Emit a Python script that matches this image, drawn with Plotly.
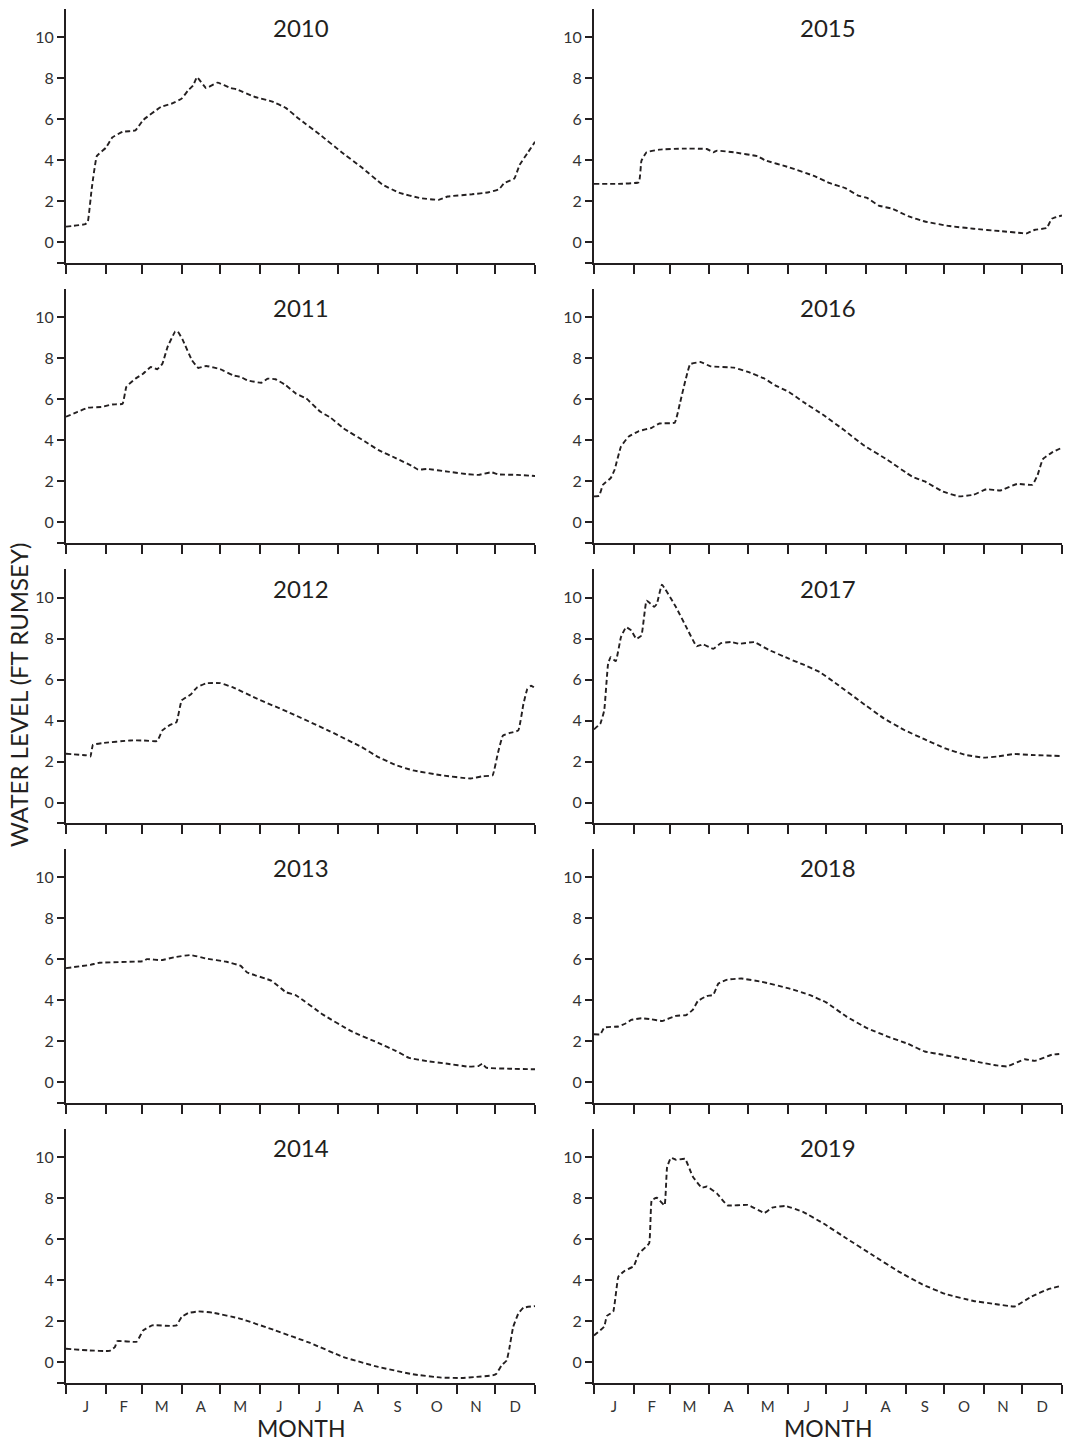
import plotly.graph_objects as go

# ---------------- data (day of year, water level ft Rumsey) ----------------
years = ["2010", "2011", "2012", "2013", "2014", "2015", "2016", "2017", "2018", "2019"]

d2010 = [0, 15, 17, 20, 24, 31, 36, 44, 54, 60, 74, 82, 90, 95, 99, 102, 109, 118, 128, 133, 147, 160, 171, 181, 198, 214, 230, 246, 259, 276, 290, 297, 316, 329, 337, 341, 349, 353, 359, 365]
v2010 = [0.75, 0.87, 1.0, 2.6, 4.2, 4.6, 5.1, 5.38, 5.45, 5.95, 6.6, 6.75, 7.0, 7.4, 7.65, 8.05, 7.52, 7.78, 7.52, 7.45, 7.08, 6.87, 6.55, 6.03, 5.22, 4.41, 3.65, 2.82, 2.41, 2.14, 2.06, 2.22, 2.33, 2.43, 2.58, 2.87, 3.11, 3.76, 4.33, 4.89]

d2011 = [0, 9, 17, 28, 36, 44, 47, 54, 60, 66, 71, 75, 79, 85, 87, 91, 98, 103, 109, 120, 130, 136, 141, 152, 157, 163, 171, 179, 187, 198, 206, 216, 233, 243, 257, 270, 274, 281, 297, 313, 321, 331, 336, 351, 365]
v2011 = [5.14, 5.38, 5.58, 5.62, 5.74, 5.77, 6.6, 7.0, 7.24, 7.57, 7.46, 7.73, 8.54, 9.3, 9.3, 8.87, 7.9, 7.52, 7.62, 7.46, 7.16, 7.08, 6.92, 6.8, 7.0, 6.97, 6.68, 6.27, 6.03, 5.38, 5.09, 4.57, 3.92, 3.52, 3.11, 2.71, 2.56, 2.59, 2.46, 2.33, 2.3, 2.43, 2.33, 2.3, 2.25]

d2012 = [0, 16, 19, 21, 28, 50, 60, 71, 75, 81, 86, 90, 97, 102, 109, 120, 130, 149, 176, 203, 230, 243, 257, 270, 292, 315, 324, 332, 336, 340, 345, 352, 356, 359, 362, 365]
v2012 = [2.38, 2.3, 2.25, 2.82, 2.9, 3.03, 3.03, 3.0, 3.52, 3.79, 3.92, 4.98, 5.27, 5.62, 5.82, 5.83, 5.62, 5.06, 4.33, 3.55, 2.71, 2.22, 1.82, 1.57, 1.33, 1.17, 1.28, 1.33, 2.38, 3.27, 3.39, 3.52, 4.81, 5.54, 5.7, 5.59]

d2013 = [0, 19, 26, 60, 63, 74, 85, 97, 109, 125, 136, 141, 160, 171, 179, 200, 222, 243, 257, 267, 281, 297, 313, 321, 324, 327, 345, 365]
v2013 = [5.56, 5.72, 5.82, 5.9, 6.0, 5.95, 6.1, 6.2, 6.03, 5.87, 5.67, 5.35, 4.94, 4.39, 4.23, 3.29, 2.48, 1.91, 1.51, 1.18, 1.02, 0.89, 0.75, 0.78, 0.89, 0.7, 0.65, 0.62]

d2014 = [0, 17, 34, 38, 40, 55, 60, 67, 82, 86, 90, 95, 103, 114, 136, 163, 190, 216, 243, 270, 292, 308, 319, 332, 335, 339, 343, 345, 348, 352, 356, 365]
v2014 = [0.65, 0.57, 0.54, 0.73, 1.02, 0.99, 1.54, 1.79, 1.76, 1.79, 2.2, 2.39, 2.47, 2.41, 2.11, 1.54, 0.93, 0.24, -0.24, -0.6, -0.76, -0.78, -0.73, -0.65, -0.57, -0.16, 0.08, 0.65, 1.71, 2.36, 2.65, 2.73]

d2015 = [0, 19, 35, 37, 41, 51, 69, 88, 93, 96, 109, 128, 133, 152, 171, 184, 196, 206, 213, 222, 233, 245, 258, 277, 296, 317, 333, 337, 344, 353, 357, 365]
v2015 = [2.84, 2.84, 2.92, 3.97, 4.38, 4.51, 4.56, 4.54, 4.38, 4.46, 4.38, 4.18, 4.0, 3.65, 3.24, 2.87, 2.63, 2.27, 2.15, 1.78, 1.62, 1.26, 1.0, 0.78, 0.65, 0.53, 0.44, 0.41, 0.6, 0.68, 1.13, 1.3]

d2016 = [0, 4, 7, 13, 16, 21, 27, 35, 45, 51, 63, 67, 75, 83, 91, 109, 120, 133, 141, 152, 163, 179, 195, 210, 229, 248, 258, 272, 285, 296, 306, 317, 330, 342, 346, 350, 357, 365]
v2016 = [1.25, 1.28, 1.82, 2.14, 2.54, 3.68, 4.17, 4.44, 4.6, 4.81, 4.85, 5.79, 7.7, 7.81, 7.6, 7.54, 7.33, 7.0, 6.68, 6.35, 5.87, 5.22, 4.49, 3.76, 3.03, 2.22, 1.98, 1.49, 1.25, 1.33, 1.6, 1.54, 1.86, 1.82, 2.3, 3.06, 3.39, 3.63]

d2017 = [0, 5, 8, 11, 13, 17, 21, 25, 29, 33, 37, 41, 47, 49, 53, 64, 72, 80, 85, 93, 99, 107, 113, 125, 136, 152, 163, 176, 189, 208, 226, 242, 258, 274, 290, 304, 314, 328, 341, 365]
v2017 = [3.57, 3.86, 4.51, 6.78, 7.1, 6.9, 8.07, 8.56, 8.4, 7.99, 8.15, 9.85, 9.56, 9.69, 10.63, 9.53, 8.56, 7.63, 7.72, 7.5, 7.78, 7.84, 7.75, 7.83, 7.46, 7.02, 6.74, 6.37, 5.8, 4.92, 4.11, 3.54, 3.08, 2.64, 2.32, 2.19, 2.24, 2.37, 2.32, 2.27]

d2018 = [0, 5, 8, 19, 25, 29, 37, 45, 53, 64, 72, 77, 81, 88, 93, 97, 104, 115, 131, 152, 168, 181, 197, 213, 229, 245, 258, 272, 285, 301, 314, 322, 330, 336, 344, 357, 365]
v2018 = [2.33, 2.33, 2.66, 2.71, 2.87, 3.03, 3.11, 3.06, 2.98, 3.23, 3.27, 3.52, 3.95, 4.2, 4.25, 4.81, 5.0, 5.05, 4.89, 4.57, 4.25, 3.89, 3.19, 2.63, 2.22, 1.86, 1.49, 1.33, 1.17, 0.96, 0.81, 0.76, 0.96, 1.11, 1.03, 1.33, 1.38]

d2019 = [0, 8, 10, 15, 19, 24, 31, 35, 43, 45, 49, 55, 57, 60, 64, 71, 77, 84, 88, 96, 104, 120, 133, 139, 149, 163, 179, 197, 216, 237, 256, 274, 296, 312, 328, 341, 354, 365]
v2019 = [1.3, 1.73, 2.25, 2.46, 4.17, 4.46, 4.68, 5.3, 5.79, 7.9, 8.02, 7.65, 9.51, 9.97, 9.87, 9.92, 9.06, 8.51, 8.57, 8.22, 7.65, 7.67, 7.28, 7.54, 7.62, 7.33, 6.76, 6.03, 5.27, 4.44, 3.79, 3.32, 2.98, 2.84, 2.71, 3.19, 3.55, 3.73]

days = [d2010, d2011, d2012, d2013, d2014, d2015, d2016, d2017, d2018, d2019]
levels = [v2010, v2011, v2012, v2013, v2014, v2015, v2016, v2017, v2018, v2019]

month_labels = ["J", "F", "M", "A", "M", "J", "J", "A", "S", "O", "N", "D"]
month_starts = [0, 31, 59, 90, 120, 151, 181, 212, 243, 273, 304, 334, 365]
y_tickvals = [-1, 0, 2, 4, 6, 8, 10]
y_ticktext = ["", "0", "2", "4", "6", "8", "10"]

# ---------------- layout ----------------
W, H = 1065, 1443
FONT = "Lato, 'Open Sans', sans-serif"
INK = "#231f20"
col_px = [(66, 535), (594, 1062)]
row_bottom_px = [262.5, 542.5, 823, 1102.5, 1382.5]
row_h_px = 254
YMIN, YMAX = -1, 11.4

month_mid = [(month_starts[i] + month_starts[i + 1]) / 2 for i in range(12)]

fig = go.Figure()
layout = dict(
    width=W, height=H,
    margin=dict(l=0, r=0, t=0, b=0),
    paper_bgcolor="white", plot_bgcolor="white",
    showlegend=False,
    font=dict(family=FONT, color=INK),
)
annotations = []

for i, yr in enumerate(years):
    col = i // 5
    row = i % 5
    n = i + 1
    xa = "xaxis" if n == 1 else f"xaxis{n}"
    ya = "yaxis" if n == 1 else f"yaxis{n}"
    xref = "x" if n == 1 else f"x{n}"
    yref = "y" if n == 1 else f"y{n}"
    x0, x1 = col_px[col]
    yb = row_bottom_px[row]
    yt = yb - row_h_px
    bottom = row == 4

    fig.add_trace(go.Scatter(
        x=days[i], y=levels[i], mode="lines",
        line=dict(color=INK, width=1.9, dash="5px,3px", shape="spline", smoothing=0.3),
        xaxis=xref, yaxis=yref, hoverinfo="skip",
    ))

    layout[xa] = dict(
        domain=[x0 / W, x1 / W], anchor=yref, range=[0, 365],
        showgrid=False, zeroline=False, showline=True, linecolor=INK, linewidth=2,
        tickmode="array", tickvals=month_mid, ticktext=month_labels,
        ticks="", ticklen=0, showticklabels=bottom, ticklabelstandoff=9,
        tickfont=dict(family=FONT, size=15, color="#333"),
        minor=dict(tickmode="array", tickvals=month_starts, ticks="outside",
                   ticklen=9, tickwidth=2, tickcolor=INK, showgrid=False),
        fixedrange=True,
    )
    layout[ya] = dict(
        domain=[1 - yb / H, 1 - yt / H], anchor=xref, range=[YMIN, YMAX],
        showgrid=False, zeroline=False, showline=True, linecolor=INK, linewidth=2,
        tickmode="array", tickvals=y_tickvals, ticktext=y_ticktext,
        ticks="outside", ticklen=7, tickwidth=1.5, tickcolor=INK,
        tickfont=dict(family=FONT, size=16, color="#333"),
        fixedrange=True,
    )
    annotations.append(dict(
        text=yr, x=182.5, y=10.45, xref=xref, yref=yref, showarrow=False,
        font=dict(family=FONT, size=24, color=INK), xanchor="center", yanchor="middle",
    ))

for col in range(2):
    x0, x1 = col_px[col]
    annotations.append(dict(
        text="MONTH", x=(x0 + x1) / 2 / W, y=1 - 1428 / H, xref="paper", yref="paper",
        showarrow=False, font=dict(family=FONT, size=23, color=INK),
        xanchor="center", yanchor="middle",
    ))

annotations.append(dict(
    text="WATER LEVEL (FT RUMSEY)", x=18 / W, y=1 - 695 / H, xref="paper", yref="paper",
    showarrow=False, textangle=-90, font=dict(family=FONT, size=24, color=INK),
    xanchor="center", yanchor="middle",
))

layout["annotations"] = annotations
fig.update_layout(**layout)
fig.write_html("out.html")
